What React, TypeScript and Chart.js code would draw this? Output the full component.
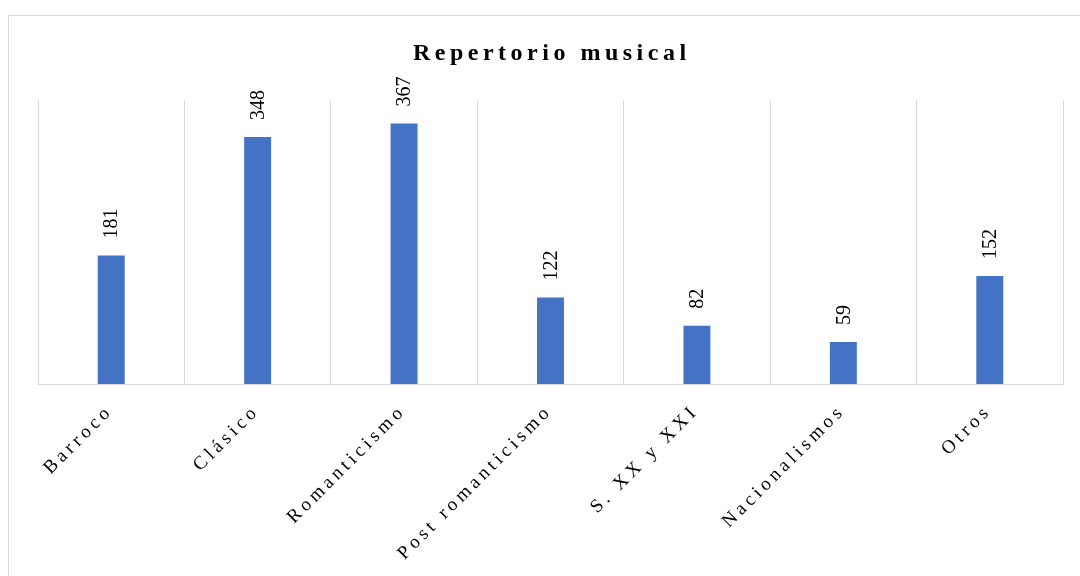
import React, { useEffect, useRef } from "react";
import { Chart, registerables } from "chart.js";

Chart.register(...registerables);

const TITLE = "Repertorio musical";
const categories = [
  "Barroco",
  "Clásico",
  "Romanticismo",
  "Post romanticismo",
  "S. XX y XXI",
  "Nacionalismos",
  "Otros",
];
const values = [181, 348, 367, 122, 82, 59, 152];
const Y_MIN = 0;
const Y_MAX = 400;

const SERIF = '"Liberation Serif", "Times New Roman", serif';

const decorPlugin = {
  id: "decor",
  beforeDraw(chart: any) {
    const ctx = chart.ctx;
    ctx.save();
    ctx.fillStyle = "#ffffff";
    ctx.fillRect(0, 0, chart.width, chart.height);
    ctx.strokeStyle = "#d9d9d9";
    ctx.lineWidth = 1;
    ctx.strokeRect(8.5, 15.5, chart.width + 20, chart.height + 20);
    ctx.restore();
  },
  afterDraw(chart: any) {
    const ctx = chart.ctx;
    const area = chart.chartArea;
    const xScale = chart.scales.x;
    const meta = chart.getDatasetMeta(0);

    // Title
    ctx.save();
    ctx.fillStyle = "#000000";
    ctx.font = `bold 24px ${SERIF}`;
    (ctx as any).letterSpacing = "4.5px";
    ctx.textAlign = "center";
    ctx.textBaseline = "alphabetic";
    ctx.fillText(TITLE, 549.5 + 2.25, 60);
    ctx.restore();

    // Data labels
    ctx.save();
    ctx.fillStyle = "#000000";
    ctx.font = `20px ${SERIF}`;
    ctx.textAlign = "left";
    ctx.textBaseline = "middle";
    meta.data.forEach((bar: any, i: number) => {
      ctx.save();
      ctx.translate(bar.x, bar.y - 17);
      ctx.rotate(-Math.PI / 2);
      ctx.fillText(String(values[i]), 0, 1);
      ctx.restore();
    });
    ctx.restore();

    // X labels
    ctx.save();
    ctx.fillStyle = "#000000";
    ctx.font = `19px ${SERIF}`;
    (ctx as any).letterSpacing = "4px";
    ctx.textAlign = "right";
    ctx.textBaseline = "middle";
    categories.forEach((label, i) => {
      const x = xScale.getPixelForTick(i);
      ctx.save();
      ctx.translate(x - 4, area.bottom + 27);
      ctx.rotate(-Math.PI / 4);
      ctx.fillText(label, 4, 0);
      ctx.restore();
    });
    ctx.restore();
  },
};

export default function App() {
  const ref = useRef<HTMLCanvasElement | null>(null);

  useEffect(() => {
    if (!ref.current) return;
    const chart = new Chart(ref.current, {
      type: "bar",
      data: {
        labels: categories,
        datasets: [
          {
            data: values,
            backgroundColor: "#4472C4",
            borderWidth: 0,
            barPercentage: 0.184,
            categoryPercentage: 1,
          },
        ],
      },
      options: {
        animation: false,
        responsive: false,
        maintainAspectRatio: false,
        devicePixelRatio: 1,
        layout: {
          padding: { left: 38, right: 17, top: 100, bottom: 192 },
        },
        plugins: {
          legend: { display: false },
          title: { display: false },
          tooltip: { enabled: false },
        },
        scales: {
          x: {
            offset: true,
            grid: {
              display: true,
              offset: true,
              color: "#d9d9d9",
              lineWidth: 1,
              drawTicks: false,
            },
            border: { display: true, color: "#d9d9d9", width: 1 },
            ticks: { display: false },
          },
          y: {
            display: false,
            min: Y_MIN,
            max: Y_MAX,
          },
        },
      },
      plugins: [decorPlugin],
    });
    return () => chart.destroy();
  }, []);

  return (
    <div style={{ position: "fixed", left: 0, top: 0, width: 1080, height: 576, background: "#fff" }}>
      <canvas ref={ref} width={1080} height={576} style={{ display: "block", width: 1080, height: 576 }} />
    </div>
  );
}
